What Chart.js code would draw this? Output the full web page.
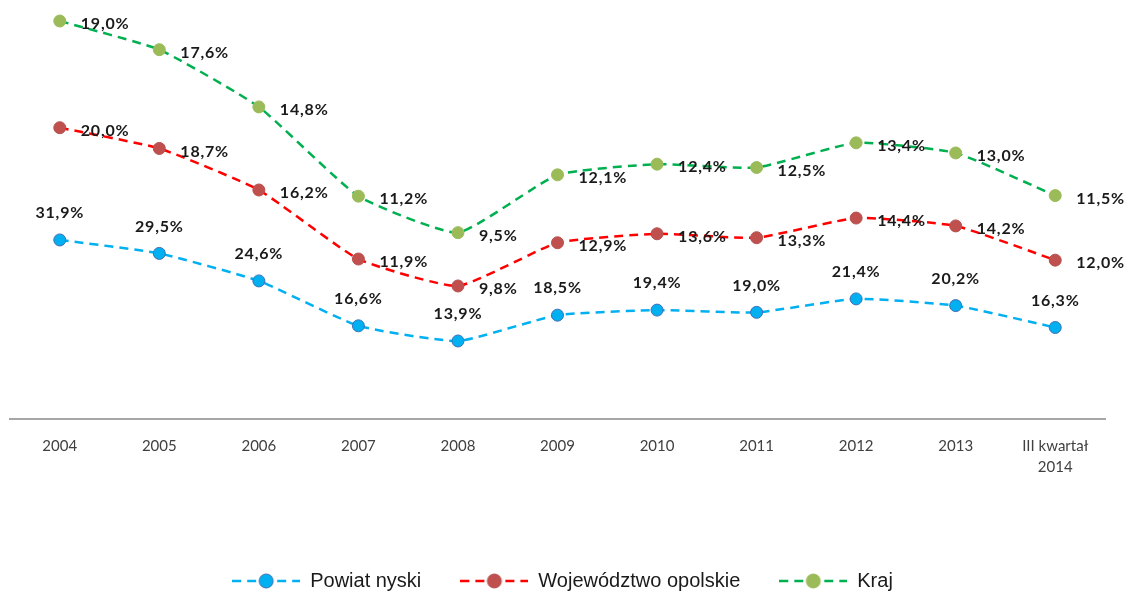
<!DOCTYPE html>
<html>
<head>
<meta charset="utf-8">
<script src="https://cdn.jsdelivr.net/npm/chart.js@4.4.1/dist/chart.umd.min.js"></script>
<style>
  html, body { margin: 0; padding: 0; background: #fff; }
  #wrap { width: 1126px; height: 593px; }
</style>
</head>
<body>
<div id="wrap"><canvas id="myChart"></canvas></div>
<script>
const labels = ["2004", "2005", "2006", "2007", "2008", "2009", "2010", "2011", "2012", "2013", ["III kwartał", "2014"]];
const powiat = [31.9, 29.5, 24.6, 16.6, 13.9, 18.5, 19.4, 19.0, 21.4, 20.2, 16.3];
const wojewodztwo = [20.0, 18.7, 16.2, 11.9, 9.8, 12.9, 13.6, 13.3, 14.4, 14.2, 12.0];
const kraj = [19.0, 17.6, 14.8, 11.2, 9.5, 12.1, 12.4, 12.5, 13.4, 13.0, 11.5];

/* legend marker: dashed line with a dot */
let legendMarker = (line, fill, border) => {
  const c = document.createElement("canvas");
  c.width = 68; c.height = 16;
  const g = c.getContext("2d");
  g.strokeStyle = line;
  g.lineWidth = 2.5;
  g.setLineDash([9, 6]);
  g.beginPath();
  g.moveTo(0, 8); g.lineTo(68, 8);
  g.stroke();
  g.setLineDash([]);
  g.beginPath();
  g.arc(34, 8, 7, 0, Math.PI * 2);
  g.fillStyle = fill;
  g.fill();
  g.strokeStyle = border;
  g.lineWidth = 1;
  g.stroke();
  return c;
};

const valueLabels = {
  id: "valueLabels",
  afterDatasetsDraw(chart) {
    const ctx = chart.ctx;
    ctx.save();
    ctx.font = "bold 16px Lato";
    ctx.letterSpacing = "0.8px";
    ctx.fillStyle = "#1a1a1a";
    ctx.textBaseline = "middle";
    chart.data.datasets.forEach((ds, di) => {
      const meta = chart.getDatasetMeta(di);
      meta.data.forEach((pt, i) => {
        const txt = ds.data[i].toFixed(1).replace(".", ",") + "%";
        if (di === 0) {
          ctx.textAlign = "center";
          ctx.fillText(txt, pt.x, pt.y - 27);
        } else {
          ctx.textAlign = "left";
          ctx.fillText(txt, pt.x + 21, pt.y + 3);
        }
      });
    });
    ctx.restore();
  }
};

/* move the legend a little, as in the original */
const legendShift = {
  id: "legendShift",
  afterLayout(chart) {
    const lg = chart.legend;
    lg.left += 5; lg.right += 5;
    lg.top += 8; lg.bottom += 8;
  }
};

const series = [
  { label: "Powiat nyski", data: powiat, line: "#00b0f0", fill: "#00b0f0", border: "#3f6fb5" },
  { label: "Województwo opolskie", data: wojewodztwo, line: "#ff0000", fill: "#c0504d", border: "#b5504d" },
  { label: "Kraj", data: kraj, line: "#00b050", fill: "#9bbb59", border: "#9bbb59" }
];

const ctx = document.getElementById("myChart");
const chart = new Chart(ctx, {
  type: "line",
  data: {
    labels: labels,
    datasets: series.map(s => ({
      label: s.label,
      data: s.data,
      borderColor: s.line,
      borderWidth: 2.5,
      borderDash: [9, 6],
      backgroundColor: s.fill,
      pointBackgroundColor: s.fill,
      pointBorderColor: s.border,
      pointBorderWidth: 1,
      pointRadius: 6,
      pointHoverRadius: 6,
      tension: 0.15,
      fill: false
    }))
  },
  options: {
    responsive: true,
    maintainAspectRatio: false,
    animation: false,
    layout: { padding: { left: 10, right: 21, top: 0, bottom: 0 } },
    scales: {
      x: {
        offset: true,
        grid: { display: false, drawTicks: false },
        border: { display: true, color: "#a6a6a6", width: 2 },
        ticks: { color: "#404040", font: { family: "Lato", size: 15, lineHeight: 1.4 }, padding: 17, maxRotation: 0, autoSkip: false },
        afterFit: (scale) => { scale.height = 105; }
      },
      y: {
        stacked: true,
        display: false,
        min: 0,
        max: 73.4
      }
    },
    plugins: {
      tooltip: { enabled: false },
      legend: {
        position: "bottom",
        labels: {
          usePointStyle: true,
          pointStyleWidth: 68,
          padding: 39,
          color: "#1a1a1a",
          font: { family: "Liberation Sans", size: 20 },
          generateLabels: (ch) => series.map((s, i) => ({
            text: s.label,
            datasetIndex: i,
            pointStyle: legendMarker(s.line, s.fill, s.border),
            fillStyle: s.fill,
            strokeStyle: s.line,
            lineWidth: 0,
            hidden: false,
            fontColor: "#1a1a1a"
          }))
        }
      }
    }
  },
  plugins: [valueLabels, legendShift]
});
</script>
</body>
</html>
